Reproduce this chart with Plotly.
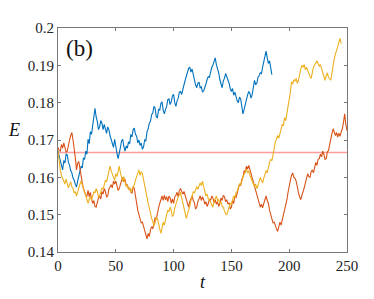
import plotly.graph_objects as go

# ---- data ----
E_ref = 1 / 6

t_blue = list(range(0, 186))
E_blue = [
    0.1670, 0.1655, 0.1650, 0.1628, 0.1620, 0.1645, 0.1638, 0.1662, 0.1660, 0.1640,
    0.1632, 0.1618, 0.1612, 0.1598, 0.1592, 0.1581, 0.1574, 0.1590, 0.1602, 0.1618,
    0.1630, 0.1625, 0.1652, 0.1648, 0.1670, 0.1662, 0.1702, 0.1690, 0.1722, 0.1715,
    0.1742, 0.1768, 0.1785, 0.1762, 0.1750, 0.1728, 0.1735, 0.1752, 0.1745, 0.1728,
    0.1742, 0.1730, 0.1718, 0.1735, 0.1728, 0.1712, 0.1700, 0.1690, 0.1680, 0.1702,
    0.1688, 0.1665, 0.1650, 0.1672, 0.1680, 0.1698, 0.1702, 0.1682, 0.1670, 0.1684,
    0.1678, 0.1695, 0.1690, 0.1715, 0.1708, 0.1728, 0.1732, 0.1715, 0.1710, 0.1692,
    0.1700, 0.1685, 0.1692, 0.1675, 0.1682, 0.1700, 0.1698, 0.1722, 0.1730, 0.1745,
    0.1750, 0.1768, 0.1772, 0.1790, 0.1785, 0.1762, 0.1760, 0.1782, 0.1780, 0.1798,
    0.1802, 0.1780, 0.1770, 0.1782, 0.1790, 0.1808, 0.1810, 0.1795, 0.1802, 0.1818,
    0.1822, 0.1800, 0.1790, 0.1805, 0.1812, 0.1828, 0.1830, 0.1822, 0.1840, 0.1848,
    0.1860, 0.1872, 0.1880, 0.1892, 0.1895, 0.1882, 0.1890, 0.1875, 0.1860, 0.1848,
    0.1840, 0.1852, 0.1855, 0.1840, 0.1842, 0.1828, 0.1832, 0.1845, 0.1850, 0.1862,
    0.1870, 0.1868, 0.1882, 0.1895, 0.1900, 0.1912, 0.1920, 0.1902, 0.1892, 0.1880,
    0.1862, 0.1848, 0.1840, 0.1858, 0.1865, 0.1878, 0.1870, 0.1858, 0.1852, 0.1838,
    0.1830, 0.1838, 0.1820, 0.1828, 0.1815, 0.1805, 0.1800, 0.1815, 0.1810, 0.1790,
    0.1770, 0.1782, 0.1792, 0.1808, 0.1820, 0.1830, 0.1825, 0.1812, 0.1822, 0.1845,
    0.1860, 0.1848, 0.1852, 0.1868, 0.1872, 0.1880, 0.1878, 0.1895, 0.1910, 0.1925,
    0.1938, 0.1920, 0.1905, 0.1912, 0.1898, 0.1875,
]

t_red = list(range(0, 251))
E_red = [
    0.1680, 0.1672, 0.1670, 0.1688, 0.1678, 0.1692, 0.1680, 0.1668, 0.1670, 0.1690,
    0.1700, 0.1712, 0.1720, 0.1700, 0.1680, 0.1652, 0.1620, 0.1638, 0.1642, 0.1618,
    0.1600, 0.1585, 0.1570, 0.1562, 0.1552, 0.1550, 0.1565, 0.1548, 0.1560, 0.1542,
    0.1530, 0.1538, 0.1522, 0.1520, 0.1535, 0.1545, 0.1550, 0.1542, 0.1562, 0.1555,
    0.1570, 0.1562, 0.1548, 0.1550, 0.1568, 0.1575, 0.1580, 0.1572, 0.1590, 0.1582,
    0.1590, 0.1578, 0.1565, 0.1570, 0.1585, 0.1592, 0.1600, 0.1588, 0.1595, 0.1578,
    0.1580, 0.1568, 0.1572, 0.1560, 0.1558, 0.1575, 0.1570, 0.1548, 0.1530, 0.1512,
    0.1500, 0.1490, 0.1478, 0.1480, 0.1468, 0.1460, 0.1448, 0.1435, 0.1450, 0.1442,
    0.1460, 0.1468, 0.1462, 0.1480, 0.1492, 0.1488, 0.1510, 0.1518, 0.1530, 0.1540,
    0.1550, 0.1538, 0.1552, 0.1540, 0.1548, 0.1535, 0.1550, 0.1545, 0.1530, 0.1542,
    0.1530, 0.1548, 0.1552, 0.1560, 0.1548, 0.1565, 0.1570, 0.1562, 0.1555, 0.1562,
    0.1550, 0.1538, 0.1530, 0.1520, 0.1535, 0.1542, 0.1550, 0.1538, 0.1532, 0.1515,
    0.1520, 0.1535, 0.1542, 0.1550, 0.1538, 0.1548, 0.1540, 0.1528, 0.1535, 0.1522,
    0.1530, 0.1542, 0.1538, 0.1550, 0.1545, 0.1532, 0.1540, 0.1528, 0.1535, 0.1522,
    0.1530, 0.1545, 0.1538, 0.1552, 0.1548, 0.1535, 0.1540, 0.1528, 0.1532, 0.1515,
    0.1520, 0.1538, 0.1530, 0.1550, 0.1545, 0.1562, 0.1570, 0.1582, 0.1578, 0.1595,
    0.1600, 0.1618, 0.1612, 0.1630, 0.1622, 0.1632, 0.1620, 0.1608, 0.1600, 0.1588,
    0.1580, 0.1562, 0.1550, 0.1538, 0.1530, 0.1520, 0.1528, 0.1518, 0.1530, 0.1542,
    0.1550, 0.1538, 0.1530, 0.1512, 0.1500, 0.1490, 0.1478, 0.1480, 0.1468, 0.1462,
    0.1455, 0.1470, 0.1480, 0.1472, 0.1492, 0.1500, 0.1512, 0.1525, 0.1540, 0.1560,
    0.1580, 0.1592, 0.1605, 0.1612, 0.1600, 0.1598, 0.1590, 0.1572, 0.1560, 0.1548,
    0.1540, 0.1552, 0.1560, 0.1572, 0.1585, 0.1598, 0.1610, 0.1602, 0.1600, 0.1615,
    0.1620, 0.1612, 0.1632, 0.1640, 0.1632, 0.1648, 0.1650, 0.1662, 0.1655, 0.1670,
    0.1662, 0.1648, 0.1650, 0.1668, 0.1672, 0.1690, 0.1702, 0.1718, 0.1730, 0.1722,
    0.1712, 0.1720, 0.1708, 0.1718, 0.1710, 0.1722, 0.1730, 0.1748, 0.1770, 0.1742,
    0.1725,
]

t_yellow = list(range(0, 246))
E_yellow = [
    0.1670, 0.1640, 0.1620, 0.1605, 0.1598, 0.1590, 0.1582, 0.1595, 0.1580, 0.1572,
    0.1580, 0.1588, 0.1575, 0.1570, 0.1558, 0.1562, 0.1550, 0.1562, 0.1570, 0.1582,
    0.1590, 0.1578, 0.1572, 0.1560, 0.1552, 0.1540, 0.1530, 0.1542, 0.1548, 0.1538,
    0.1550, 0.1562, 0.1558, 0.1570, 0.1562, 0.1548, 0.1550, 0.1565, 0.1572, 0.1568,
    0.1580, 0.1592, 0.1588, 0.1600, 0.1612, 0.1630, 0.1618, 0.1605, 0.1600, 0.1592,
    0.1610, 0.1602, 0.1618, 0.1630, 0.1612, 0.1598, 0.1590, 0.1602, 0.1588, 0.1575,
    0.1580, 0.1568, 0.1572, 0.1560, 0.1568, 0.1575, 0.1580, 0.1592, 0.1600, 0.1612,
    0.1620, 0.1605, 0.1615, 0.1610, 0.1592, 0.1580, 0.1562, 0.1548, 0.1530, 0.1518,
    0.1500, 0.1490, 0.1482, 0.1470, 0.1478, 0.1492, 0.1490, 0.1472, 0.1462, 0.1450,
    0.1462, 0.1480, 0.1472, 0.1490, 0.1500, 0.1512, 0.1508, 0.1520, 0.1512, 0.1495,
    0.1500, 0.1518, 0.1530, 0.1540, 0.1548, 0.1552, 0.1560, 0.1545, 0.1530, 0.1512,
    0.1500, 0.1490, 0.1502, 0.1510, 0.1522, 0.1538, 0.1550, 0.1562, 0.1558, 0.1570,
    0.1575, 0.1568, 0.1580, 0.1585, 0.1578, 0.1590, 0.1575, 0.1562, 0.1550, 0.1555,
    0.1542, 0.1540, 0.1532, 0.1525, 0.1520, 0.1535, 0.1542, 0.1550, 0.1538, 0.1540,
    0.1530, 0.1535, 0.1522, 0.1520, 0.1510, 0.1502, 0.1500, 0.1512, 0.1520, 0.1530,
    0.1528, 0.1542, 0.1550, 0.1545, 0.1560, 0.1562, 0.1570, 0.1582, 0.1580, 0.1592,
    0.1600, 0.1608, 0.1615, 0.1622, 0.1612, 0.1618, 0.1605, 0.1598, 0.1590, 0.1580,
    0.1575, 0.1582, 0.1570, 0.1578, 0.1590, 0.1600, 0.1592, 0.1585, 0.1598, 0.1610,
    0.1618, 0.1612, 0.1628, 0.1640, 0.1648, 0.1645, 0.1660, 0.1680, 0.1695, 0.1702,
    0.1712, 0.1705, 0.1720, 0.1730, 0.1742, 0.1738, 0.1760, 0.1752, 0.1770, 0.1782,
    0.1800, 0.1828, 0.1855, 0.1850, 0.1862, 0.1858, 0.1865, 0.1852, 0.1860, 0.1878,
    0.1890, 0.1900, 0.1895, 0.1902, 0.1888, 0.1895, 0.1885, 0.1878, 0.1870, 0.1865,
    0.1882, 0.1895, 0.1900, 0.1908, 0.1912, 0.1905, 0.1898, 0.1902, 0.1890, 0.1878,
    0.1870, 0.1860, 0.1872, 0.1880, 0.1868, 0.1862, 0.1860, 0.1880, 0.1905, 0.1918,
    0.1930, 0.1945, 0.1950, 0.1962, 0.1972, 0.1958,
]

x_ticks = [0, 50, 100, 150, 200, 250]
y_ticks = [0.14, 0.15, 0.16, 0.17, 0.18, 0.19, 0.2]
y_ticktext = ["0.14", "0.15", "0.16", "0.17", "0.18", "0.19", "0.2"]

# ---- figure ----
FONT = "Liberation Serif"
fig = go.Figure()
fig.add_trace(go.Scatter(x=[0, 250], y=[E_ref, E_ref], mode="lines",
                         line=dict(color="rgba(255,60,60,0.5)", width=1.5),
                         hoverinfo="skip"))
fig.add_trace(go.Scatter(x=t_blue, y=E_blue, mode="lines",
                         line=dict(color="#0072BD", width=1.1)))
fig.add_trace(go.Scatter(x=t_red, y=E_red, mode="lines",
                         line=dict(color="#D95319", width=1.1)))
fig.add_trace(go.Scatter(x=t_yellow, y=E_yellow, mode="lines",
                         line=dict(color="#EDB120", width=1.1)))

axis_common = dict(showgrid=False, zeroline=False, showline=True, linecolor="#777",
                   linewidth=1, mirror="ticks", ticks="inside", ticklen=3,
                   tickcolor="#777", tickfont=dict(family=FONT, size=15, color="#222"))

# the page body adds an 8 px offset, so the figure is 8 px smaller and margins shifted
fig.update_layout(
    width=366, height=291,
    margin=dict(l=50, r=27, t=14, b=47),
    paper_bgcolor="white", plot_bgcolor="white",
    showlegend=False,
    font=dict(family=FONT),
    xaxis=dict(range=[0, 250], tickvals=x_ticks, **axis_common),
    yaxis=dict(range=[0.14, 0.2], tickvals=y_ticks, ticktext=y_ticktext, **axis_common),
    annotations=[
        dict(text="(b)", x=5, y=0.1946, xref="x", yref="y", xanchor="left",
             yanchor="middle", showarrow=False,
             font=dict(family=FONT, size=23, color="#111")),
        dict(text="<i>E</i>", x=-0.152, y=0.543, xref="paper", yref="paper",
             xanchor="center", yanchor="middle", showarrow=False,
             font=dict(family=FONT, size=18, color="#111")),
        dict(text="<i>t</i>", x=0.502, y=-0.135, xref="paper", yref="paper",
             xanchor="center", yanchor="middle", showarrow=False,
             font=dict(family=FONT, size=18, color="#111")),
    ],
)

fig.write_html("out.html")
